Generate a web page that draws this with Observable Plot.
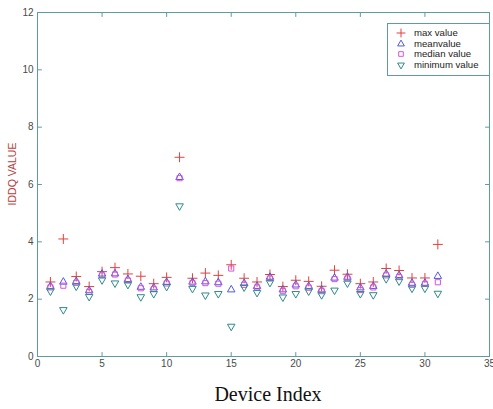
<!DOCTYPE html>
<html>
<head>
<meta charset="utf-8">
<script src="https://cdn.jsdelivr.net/npm/d3@7"></script>
<script src="https://cdn.jsdelivr.net/npm/@observablehq/plot@0.6"></script>
<style>
  body { margin: 0; background: #fff; }
  #wrap { position: relative; width: 493px; height: 409px; overflow: hidden; }
  #xlabel { position: absolute; left: 0; width: 536px; top: 383px; text-align: center;
            font-family: "Liberation Serif", "Times New Roman", serif; font-size: 20px; color: #111; }
  #ylabel { position: absolute; left: 12px; top: 174px; transform: translate(-50%, -50%) rotate(-90deg);
            font-family: "Liberation Sans", Arial, sans-serif; font-size: 10.5px; color: #b5413e; white-space: nowrap; }
  #legend { position: absolute; left: 387px; top: 23px; width: 101px; height: 51px; background: #fff;
            border: 1px solid #5f9c9c; font-family: "Liberation Sans", Arial, sans-serif; font-size: 9.6px; color: #222; }
  .row { position: absolute; left: 0; height: 10px; line-height: 10px; white-space: nowrap; }
  .row svg { position: absolute; left: 7px; top: -1px; }
  .row span { position: absolute; left: 26px; top: 0; }
</style>
</head>
<body>
<div id="wrap">
  <div id="chart"></div>
  <div id="ylabel">IDDQ VALUE</div>
  <div id="xlabel">Device Index</div>
  <div id="legend"></div>
</div>
<script>
const devices = [1,2,3,4,5,6,7,8,9,10,11,12,13,14,15,16,17,18,19,20,21,22,23,24,25,26,27,28,29,30,31];
const maxValue    = [2.60,4.10,2.79,2.44,2.96,3.10,2.88,2.80,2.54,2.76,6.95,2.73,2.91,2.83,3.20,2.73,2.60,2.86,2.44,2.66,2.62,2.45,3.01,2.87,2.54,2.60,3.07,3.00,2.74,2.74,3.91];
const meanValue   = [2.45,2.60,2.62,2.30,2.88,2.89,2.69,2.42,2.40,2.59,6.25,2.60,2.61,2.58,2.33,2.55,2.45,2.77,2.33,2.50,2.45,2.33,2.74,2.77,2.40,2.45,2.88,2.83,2.56,2.56,2.80];
const medianValue = [2.41,2.47,2.57,2.25,2.83,2.86,2.65,2.38,2.35,2.55,6.22,2.56,2.56,2.54,3.07,2.50,2.41,2.72,2.28,2.45,2.40,2.28,2.70,2.72,2.32,2.41,2.83,2.77,2.50,2.53,2.59];
const minValue    = [2.28,1.63,2.45,2.09,2.67,2.56,2.51,2.08,2.19,2.44,5.25,2.37,2.14,2.19,1.05,2.42,2.23,2.58,2.07,2.19,2.28,2.15,2.31,2.56,2.19,2.15,2.71,2.63,2.38,2.38,2.20];
const xTicks = [0,5,10,15,20,25,30,35];
const yTicks = [0,2,4,6,8,10,12];
const seriesNames = ["max value", "meanvalue", "median value", "minimum value"];

const axisColor = "#5f9c9c";
const colors = { max: "#e2413f", mean: "#4f5ce0", median: "#d454dc", min: "#2f8a8a" };

const tickShape = { draw(context, l) { context.moveTo(0, 0); context.lineTo(0, -l); } };
const tickOpts = { length: 4, anchor: "start", shape: tickShape, stroke: axisColor, strokeWidth: 1 };

const series = [
  { name: seriesNames[0], vals: maxValue,    symbol: "plus",     r: 3.3, rotate: 0,   color: colors.max },
  { name: seriesNames[1], vals: meanValue,   symbol: "triangle", r: 2.8, rotate: 0,   color: colors.mean },
  { name: seriesNames[2], vals: medianValue, symbol: "square",   r: 2.9, rotate: 0,   color: colors.median },
  { name: seriesNames[3], vals: minValue,    symbol: "triangle", r: 2.8, rotate: 180, color: colors.min }
];

const chart = Plot.plot({
  width: 493,
  height: 378,
  marginLeft: 37,
  marginRight: 4,
  marginTop: 12,
  marginBottom: 22,
  style: { fontFamily: "Liberation Sans, Arial, sans-serif", fontSize: "10px", color: "#4a4a4a", background: "#fff" },
  x: { domain: [0, 35] },
  y: { domain: [0, 12] },
  marks: [
    Plot.frame({ stroke: axisColor }),
    Plot.vector(xTicks, { x: d => d, frameAnchor: "bottom", rotate: 0, ...tickOpts }),
    Plot.vector(xTicks, { x: d => d, frameAnchor: "top", rotate: 180, ...tickOpts }),
    Plot.vector(yTicks, { y: d => d, frameAnchor: "left", rotate: 90, ...tickOpts }),
    Plot.vector(yTicks, { y: d => d, frameAnchor: "right", rotate: -90, ...tickOpts }),
    Plot.axisX(xTicks, { tickSize: 0, tickPadding: 3, label: null }),
    Plot.axisY(yTicks, { tickSize: 0, tickPadding: 4, label: null }),
    ...series.map(s => Plot.dot(devices, {
      x: d => d, y: (d, i) => s.vals[i],
      symbol: s.symbol, r: s.r, rotate: s.rotate, stroke: s.color, strokeWidth: 1, fill: "none"
    }))
  ]
});
document.getElementById("chart").appendChild(chart);

// legend
const legend = document.getElementById("legend");
const symMap = { plus: d3.symbolPlus, triangle: d3.symbolTriangle, square: d3.symbolSquare };
series.forEach((s, i) => {
  const row = document.createElement("div");
  row.className = "row";
  row.style.top = (4 + i * 10.6) + "px";
  const path = d3.symbol(symMap[s.symbol], Math.PI * s.r * s.r * 0.8)();
  row.innerHTML = `<svg width="12" height="12" viewBox="-6 -6 12 12"><path d="${path}" transform="rotate(${s.rotate})" fill="none" stroke="${s.color}" stroke-width="1"/></svg><span>${s.name}</span>`;
  legend.appendChild(row);
});
</script>
</body>
</html>
